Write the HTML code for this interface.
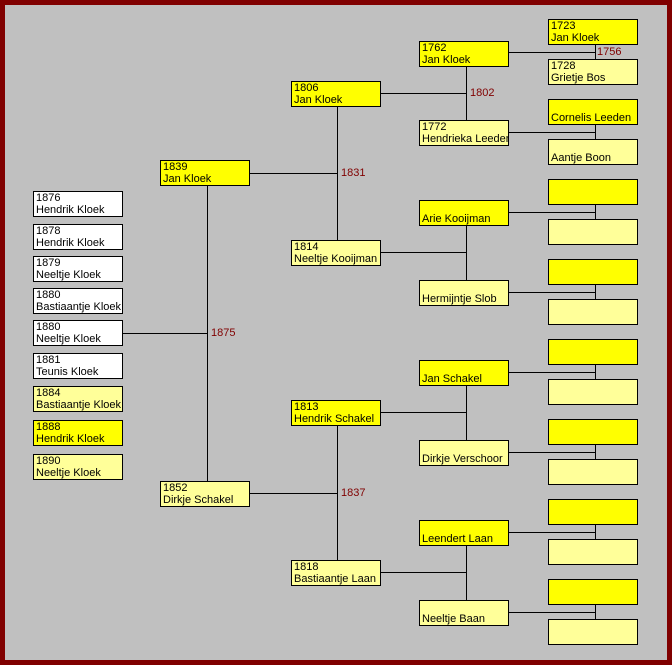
<!DOCTYPE html>
<html><head><meta charset="utf-8"><style>
html,body{margin:0;padding:0}
body{width:672px;height:665px;position:relative;background:#800000;overflow:hidden;font-family:"Liberation Sans",Arial,sans-serif}
#bg{position:absolute;left:5px;top:5px;width:662px;height:655px;background:#c0c0c0}
.b{position:absolute;box-sizing:border-box;width:90px;height:26px;border:1px solid #000;font-size:11px;line-height:12px;padding:0 0 0 2px;color:#000;white-space:nowrap;overflow:hidden}
.y{background:#ffff00}.p{background:#ffff99}.w{background:#fff}
.h{position:absolute;height:1px;background:#000}
.v{position:absolute;width:1px;background:#000}
.l{position:absolute;font-size:11px;line-height:12px;color:#800000}
</style></head><body>
<div id="bg"></div>
<!-- lines -->
<div class="h" style="left:122px;top:333px;width:85px"></div>
<div class="v" style="left:207px;top:185px;height:296px"></div>
<div class="l" style="left:211px;top:327px">1875</div>

<div class="h" style="left:249px;top:173px;width:88px"></div>
<div class="v" style="left:337px;top:106px;height:134px"></div>
<div class="l" style="left:341px;top:167px">1831</div>
<div class="h" style="left:249px;top:493px;width:88px"></div>
<div class="v" style="left:337px;top:425px;height:135px"></div>
<div class="l" style="left:341px;top:487px">1837</div>

<div class="h" style="left:380px;top:93px;width:86px"></div>
<div class="v" style="left:466px;top:66px;height:54px"></div>
<div class="l" style="left:470px;top:87px">1802</div>
<div class="h" style="left:380px;top:252px;width:86px"></div>
<div class="v" style="left:466px;top:225px;height:55px"></div>
<div class="h" style="left:380px;top:412px;width:86px"></div>
<div class="v" style="left:466px;top:385px;height:55px"></div>
<div class="h" style="left:380px;top:572px;width:86px"></div>
<div class="v" style="left:466px;top:545px;height:55px"></div>

<div class="h" style="left:508px;top:52px;width:87px"></div>
<div class="v" style="left:595px;top:44px;height:15px"></div>
<div class="l" style="left:597px;top:46px">1756</div>
<div class="h" style="left:508px;top:132px;width:87px"></div>
<div class="v" style="left:595px;top:124px;height:15px"></div>
<div class="h" style="left:508px;top:212px;width:87px"></div>
<div class="v" style="left:595px;top:204px;height:15px"></div>
<div class="h" style="left:508px;top:292px;width:87px"></div>
<div class="v" style="left:595px;top:284px;height:15px"></div>
<div class="h" style="left:508px;top:372px;width:87px"></div>
<div class="v" style="left:595px;top:364px;height:15px"></div>
<div class="h" style="left:508px;top:452px;width:87px"></div>
<div class="v" style="left:595px;top:444px;height:15px"></div>
<div class="h" style="left:508px;top:532px;width:87px"></div>
<div class="v" style="left:595px;top:524px;height:15px"></div>
<div class="h" style="left:508px;top:612px;width:87px"></div>
<div class="v" style="left:595px;top:604px;height:15px"></div>

<!-- children -->
<div class="b w" style="left:33px;top:191px">1876<br>Hendrik Kloek</div>
<div class="b w" style="left:33px;top:224px">1878<br>Hendrik Kloek</div>
<div class="b w" style="left:33px;top:256px">1879<br>Neeltje Kloek</div>
<div class="b w" style="left:33px;top:288px">1880<br>Bastiaantje Kloek</div>
<div class="b w" style="left:33px;top:320px">1880<br>Neeltje Kloek</div>
<div class="b w" style="left:33px;top:353px">1881<br>Teunis Kloek</div>
<div class="b p" style="left:33px;top:386px">1884<br>Bastiaantje Kloek</div>
<div class="b y" style="left:33px;top:420px">1888<br>Hendrik Kloek</div>
<div class="b p" style="left:33px;top:454px">1890<br>Neeltje Kloek</div>

<!-- gen 1 -->
<div class="b y" style="left:160px;top:160px">1839<br>Jan Kloek</div>
<div class="b p" style="left:160px;top:481px">1852<br>Dirkje Schakel</div>
<!-- gen 2 -->
<div class="b y" style="left:291px;top:81px">1806<br>Jan Kloek</div>
<div class="b p" style="left:291px;top:240px">1814<br>Neeltje Kooijman</div>
<div class="b y" style="left:291px;top:400px">1813<br>Hendrik Schakel</div>
<div class="b p" style="left:291px;top:560px">1818<br>Bastiaantje Laan</div>
<!-- gen 3 -->
<div class="b y" style="left:419px;top:41px">1762<br>Jan Kloek</div>
<div class="b p" style="left:419px;top:120px">1772<br>Hendrieka Leeden</div>
<div class="b y" style="left:419px;top:200px"><br>Arie Kooijman</div>
<div class="b p" style="left:419px;top:280px"><br>Hermijntje Slob</div>
<div class="b y" style="left:419px;top:360px"><br>Jan Schakel</div>
<div class="b p" style="left:419px;top:440px"><br>Dirkje Verschoor</div>
<div class="b y" style="left:419px;top:520px"><br>Leendert Laan</div>
<div class="b p" style="left:419px;top:600px"><br>Neeltje Baan</div>
<!-- gen 4 -->
<div class="b y" style="left:548px;top:19px">1723<br>Jan Kloek</div>
<div class="b p" style="left:548px;top:59px">1728<br>Grietje Bos</div>
<div class="b y" style="left:548px;top:99px"><br>Cornelis Leeden</div>
<div class="b p" style="left:548px;top:139px"><br>Aantje Boon</div>
<div class="b y" style="left:548px;top:179px"></div>
<div class="b p" style="left:548px;top:219px"></div>
<div class="b y" style="left:548px;top:259px"></div>
<div class="b p" style="left:548px;top:299px"></div>
<div class="b y" style="left:548px;top:339px"></div>
<div class="b p" style="left:548px;top:379px"></div>
<div class="b y" style="left:548px;top:419px"></div>
<div class="b p" style="left:548px;top:459px"></div>
<div class="b y" style="left:548px;top:499px"></div>
<div class="b p" style="left:548px;top:539px"></div>
<div class="b y" style="left:548px;top:579px"></div>
<div class="b p" style="left:548px;top:619px"></div>
</body></html>
